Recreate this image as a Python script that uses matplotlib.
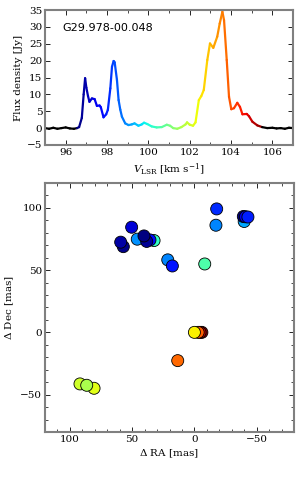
import numpy as np
import matplotlib
matplotlib.use("Agg")
import matplotlib.pyplot as plt
from matplotlib.collections import LineCollection
from matplotlib.ticker import MultipleLocator

# ---------------- data ----------------
source_name = "G29.978-00.048"

velocity = [95.0, 95.2, 95.4, 95.6, 95.8, 96.0, 96.2, 96.4, 96.55, 96.65,
            96.78, 96.87, 96.94, 97.0, 97.08, 97.15, 97.27, 97.4, 97.51, 97.64,
            97.7, 97.83, 97.96, 98.04, 98.16, 98.24, 98.32, 98.37, 98.48, 98.56,
            98.64, 98.72, 98.88, 99.04, 99.2, 99.33, 99.52, 99.68, 99.79, 99.95,
            100.16, 100.4, 100.65, 100.89, 101.05, 101.2, 101.4, 101.6, 101.8, 101.87,
            102.0, 102.16, 102.28, 102.44, 102.56, 102.68, 102.85, 102.98, 103.14, 103.33,
            103.45, 103.58, 103.66, 103.79, 103.9, 104.01, 104.14, 104.3, 104.43, 104.55,
            104.76, 104.87, 105.03, 105.27, 105.5, 105.75, 106.0, 106.2, 106.4, 106.6,
            106.8, 107.0]
flux = [0.0, -0.2, 0.1, -0.2, 0.0, 0.2, -0.1, -0.2, 0.0, 0.3,
        3.0, 10.0, 14.8, 12.0, 9.5, 7.8, 8.8, 8.6, 6.6, 6.7,
        6.2, 3.2, 4.1, 5.4, 11.8, 18.2, 19.9, 19.5, 14.3, 8.3,
        5.5, 3.4, 1.4, 0.9, 1.1, 1.4, 0.7, 1.1, 1.6, 1.2,
        0.5, 0.2, 0.3, 1.0, 0.7, 0.0, -0.2, 0.3, 1.1, 1.7,
        1.0, 0.7, 1.7, 8.3, 9.5, 11.3, 20.2, 25.1, 23.8, 27.1,
        31.0, 34.5, 32.0, 20.2, 9.3, 5.6, 5.9, 7.5, 6.3, 4.1,
        4.2, 3.5, 1.9, 0.8, 0.3, 0.0, 0.1, -0.1, 0.0, -0.2,
        0.1, 0.0]

v_min, v_max = 96.6, 105.6

# maser spots: offsets (mas) and velocities (km/s)
spot_ra = [57.1, 59.2, 50.4, 45.9, 32.4, 35.7, 38.3, 40.5,
           21.4, 17.7, -8.3, -17.3, -17.9,
           -40.0, -39.3, -41.0, -43.0,
           80.6, 91.9, 86.5,
           -6.0, -4.5, -3.0, 0.0, 13.4]
spot_dec = [68.8, 72.4, 84.4, 74.8, 73.7, 74.2, 73.0, 77.4,
            58.2, 53.3, 54.9, 86.0, 99.1,
            89.0, 93.0, 92.8, 92.6,
            -44.9, -41.4, -42.5,
            0.0, 0.0, 0.0, 0.0, -22.7]
spot_vel = [96.7, 96.9, 97.3, 99.0, 100.3, 97.8, 96.8, 96.6,
            98.9, 97.9, 100.6, 98.9, 98.1,
            99.2, 96.6, 97.5, 98.0,
            102.2, 102.0, 101.6,
            105.6, 105.0, 103.9, 102.5, 103.8]

# ---------------- style ----------------
plt.rcParams['font.family'] = ['DejaVu Serif']
plt.rcParams['mathtext.fontset'] = 'dejavuserif'
plt.rcParams['xtick.direction'] = 'in'
plt.rcParams['ytick.direction'] = 'in'
plt.rcParams['xtick.top'] = True
plt.rcParams['ytick.right'] = True
plt.rcParams['font.size'] = 7.5

cmap = plt.get_cmap('jet')
norm = plt.Normalize(v_min, v_max)

fig = plt.figure(figsize=(3.0, 4.8), dpi=100)

def style_axes(ax):
    for sp in ax.spines.values():
        sp.set_color('#808080')
        sp.set_linewidth(1.5)
    ax.tick_params(which='major', length=3.5, width=0.6, color='black', pad=2)
    ax.tick_params(which='minor', length=2, width=0.5, color='black')

# ---- spectrum ----
ax1 = fig.add_axes([0.15, 0.698, 0.827, 0.281])
v = np.asarray(velocity)
f = np.asarray(flux)
pts = np.column_stack([v, f]).reshape(-1, 1, 2)
segs = np.concatenate([pts[:-1], pts[1:]], axis=1)
mid = 0.5 * (v[:-1] + v[1:])
cols = [cmap(norm(m)) if (v_min <= m <= v_max) else (0, 0, 0, 1) for m in mid]
lc = LineCollection(segs, colors=cols, linewidths=1.6, capstyle='round', joinstyle='round')
ax1.add_collection(lc)
ax1.set_xlim(95, 107)
ax1.set_ylim(-5, 35)
ax1.xaxis.set_major_locator(MultipleLocator(2))
ax1.xaxis.set_minor_locator(MultipleLocator(1))
ax1.yaxis.set_major_locator(MultipleLocator(5))
ax1.set_xlabel(r'$V_{\rm LSR}$ [km s$^{-1}$]', labelpad=4)
ax1.set_ylabel('Flux density [Jy]', labelpad=3)
ax1.text(0.07, 0.87, source_name, transform=ax1.transAxes, fontsize=8,
         family='DejaVu Sans', ha='left', va='center')
style_axes(ax1)

# ---- spot map ----
ax2 = fig.add_axes([0.15, 0.10, 0.83, 0.519])
ax2.scatter(spot_ra, spot_dec, c=spot_vel, cmap=cmap, norm=norm, s=75,
            edgecolors='black', linewidths=0.6, zorder=3)
ax2.set_xlim(120, -80)
ax2.set_ylim(-80, 120)
ax2.xaxis.set_major_locator(MultipleLocator(50))
ax2.xaxis.set_minor_locator(MultipleLocator(10))
ax2.yaxis.set_major_locator(MultipleLocator(50))
ax2.yaxis.set_minor_locator(MultipleLocator(10))
ax2.set_xlabel(r'$\Delta$ RA [mas]', labelpad=3)
ax2.set_ylabel(r'$\Delta$ Dec [mas]', labelpad=3)
style_axes(ax2)

fig.savefig('out.png', dpi=100)
